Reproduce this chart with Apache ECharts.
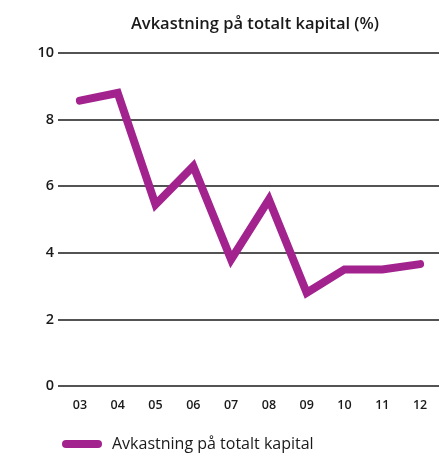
<!DOCTYPE html>
<html>
<head>
<meta charset="utf-8">
<script src="https://cdn.jsdelivr.net/npm/echarts@6/dist/echarts.min.js"></script>
<style>
html, body { margin: 0; padding: 0; background: #fff; }
#main { width: 439px; height: 453px; }
</style>
</head>
<body>
<div id="main"></div>
<script>
var years = ['03', '04', '05', '06', '07', '08', '09', '10', '11', '12'];
var avkastning = [8.57, 8.8, 5.45, 6.6, 3.8, 5.6, 2.8, 3.5, 3.5, 3.66];
var seriesName = 'Avkastning på totalt kapital';

var chart = echarts.init(document.getElementById('main'));

var option = {
	animation: false,
	textStyle: { fontFamily: 'Open Sans' },
	title: {
		text: 'Avkastning på totalt kapital (%)',
		left: 250,
		textAlign: 'center',
		top: 11,
		textStyle: {
			color: '#1a1a1a',
			fontSize: 16.5,
			fontWeight: 600,
			fontFamily: 'Open Sans'
		}
	},
	legend: {
		left: 62,
		top: 436,
		padding: 0,
		itemWidth: 40,
		itemHeight: 8,
		itemGap: 10,
		icon: 'path://M4,0 H36 A4,4 0 0 1 36,8 H4 A4,4 0 0 1 4,0 Z',
		textStyle: { color: '#1a1a1a', fontSize: 16, fontFamily: 'Open Sans', padding: [0, 0, 0, 5] },
		data: [seriesName]
	},
	grid: {
		left: 61,
		right: -3,
		top: 53,
		bottom: 67
	},
	xAxis: {
		type: 'category',
		data: years,
		axisLine: { show: false },
		axisTick: { show: false },
		axisLabel: { color: '#1a1a1a', fontSize: 12.5, fontWeight: 600, margin: 13 }
	},
	yAxis: {
		type: 'value',
		min: 0,
		max: 10,
		interval: 2,
		axisLine: { show: false },
		axisTick: { show: true, length: 3, lineStyle: { color: '#1a1a1a', width: 1.5 } },
		axisLabel: { color: '#1a1a1a', fontSize: 14.5, fontWeight: 600, margin: 7 },
		splitLine: { lineStyle: { color: '#1a1a1a', width: 1.5 } }
	},
	series: [{
		name: seriesName,
		type: 'line',
		data: avkastning,
		symbol: 'none',
		color: '#A2238E',
		lineStyle: { width: 8, cap: 'round', join: 'miter', color: '#A2238E' }
	}]
};
chart.setOption(option);
</script>
</body>
</html>
